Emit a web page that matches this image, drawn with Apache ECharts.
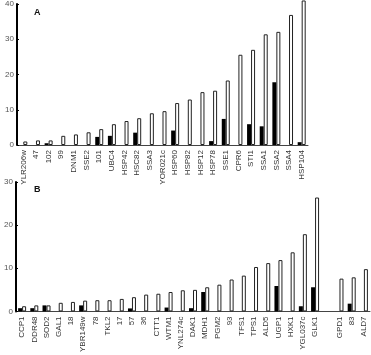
<!DOCTYPE html>
<html><head><meta charset="utf-8">
<script src="https://cdn.jsdelivr.net/npm/echarts@6/dist/echarts.min.js"></script>
<style>html,body{margin:0;padding:0;background:#fff}#c{width:371px;height:355px}</style>
</head><body><div id="c"></div>
<script>
const catsA = ['YLR206w','47','102','99','DNM1','SSE2','101','UBC4','HSP42','HSC82','SSA3','YOR021c','HSP60','HSP82','HSP12','HSP78','SSE1','CPR6','STI1','SSA1','SSA2','SSA4','HSP104'];
const whiteA = [1.0,1.3,1.3,2.6,3.0,3.6,4.5,5.9,6.8,7.6,9.0,9.6,11.9,12.9,15.0,15.4,18.3,25.6,27.0,31.4,32.1,36.9,41.0];
const blackA = [null,null,0.5,null,null,null,2.3,2.6,null,3.5,null,null,4.1,null,null,1.1,7.4,null,5.9,5.3,17.8,null,0.8];
const catsB = ['CCP1','DDR48','SOD2','GAL1','18','YBR149w','78','TKL2','17','57','36','CTT1','WTM1','YNL274c','DAK1','MDH1','PGM2','93','TFS1','TPS1','ALD5','UGP1','HXK1','YGL037c','GLK1','','GPD1','83','ALD7'];
const whiteB = [1.2,1.4,1.4,2.0,2.2,2.5,2.6,2.6,2.9,3.3,3.9,4.1,4.5,4.9,5.0,5.6,6.2,7.4,8.3,10.3,11.2,11.9,13.7,17.9,26.4,null,7.6,7.9,9.8];
const blackB = [0.75,0.75,1.4,null,null,1.4,null,null,null,0.7,null,null,0.9,null,0.75,4.5,null,null,null,null,null,5.9,null,1.2,5.6,null,null,1.8,null];
const ticksA = {min:0, max:40, interval:10};
const ticksB = {min:0, max:30, interval:10};

const FONT = 'Liberation Sans';
const chart = echarts.init(document.getElementById('c'), null, {renderer:'canvas'});
function xAx(cats, idx){
  return {type:'category', gridIndex:idx, data:cats,
    axisLine:{show:true, lineStyle:{color:'#444', width:1}},
    axisTick:{show:false},
    axisLabel:{rotate:90, interval:0, fontSize:8, fontFamily:FONT, color:'#333', margin:5}};
}
function yAx(t, idx){
  return {type:'value', gridIndex:idx, min:t.min, max:t.max, interval:t.interval,
    position:'left',
    splitLine:{show:false},
    axisLine:{show:true, onZero:false, lineStyle:{color:'#000', width:2}},
    axisTick:{show:true, inside:true, length:2, lineStyle:{color:'#000'}},
    axisLabel:{fontSize:8, fontFamily:FONT, color:'#555', margin:3}};
}
function bars(data, idx, black){
  return {type:'bar', xAxisIndex:idx, yAxisIndex:idx, data:data, barWidth:4, barGap:'0%', clip:false, z: 1,
    itemStyle: black ? {color:'#000'} : {color:'#fff', borderColor:'#222', borderWidth:1},
    silent:true, animation:false};
}
chart.setOption({
  animation:false,
  title:[
    {text:'A', left:29, top:3, textStyle:{fontSize:9, fontWeight:'bold', fontFamily:FONT, color:'#111'}},
    {text:'B', left:29, top:180, textStyle:{fontSize:9, fontWeight:'bold', fontFamily:FONT, color:'#111'}}
  ],
  grid:[
    {left:17, top:4, width:291, height:141},
    {left:16, top:182, width:354, height:135}
  ],
  xAxis:[xAx(catsA,0), xAx(catsB,1)],
  yAxis:[yAx(ticksA,0), yAx(ticksB,1)],
  series:[bars(blackA,0,true), bars(whiteA,0,false), bars(blackB,1,true), bars(whiteB,1,false)]
});
</script></body></html>
